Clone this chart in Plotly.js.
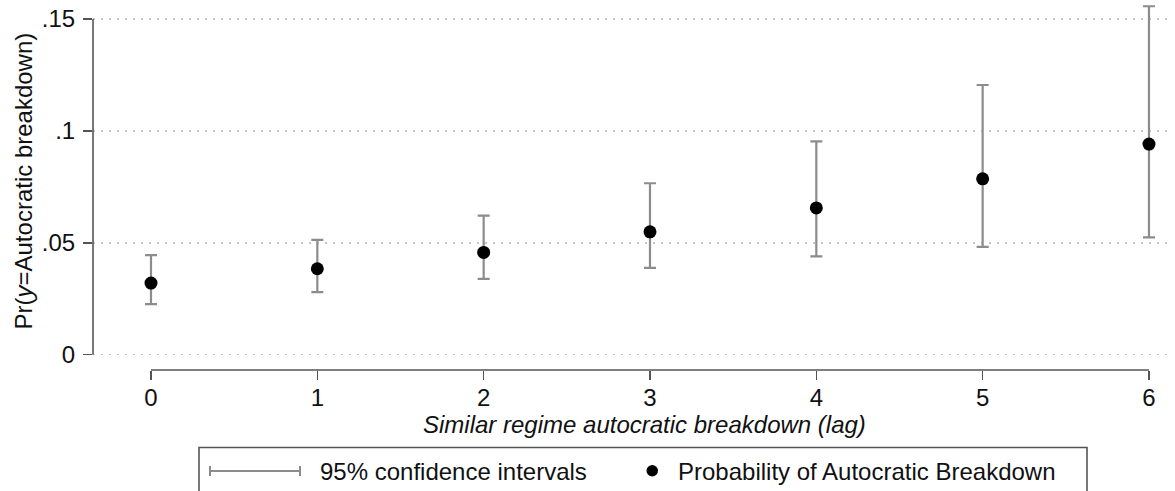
<!DOCTYPE html>
<html>
<head>
<meta charset="utf-8">
<script src="https://cdn.plot.ly/plotly-3.0.1.min.js"></script>
<style>
  html, body { margin: 0; padding: 0; background: #fff; }
  #chart { width: 1175px; height: 491px; }
</style>
</head>
<body>
<div id="chart"></div>
<script>
// ---- data ----
const lags = [0, 1, 2, 3, 4, 5, 6];
const prob = [0.0320, 0.0384, 0.0457, 0.0549, 0.0656, 0.0786, 0.0941];
const ciLow = [0.0226, 0.0280, 0.0339, 0.0388, 0.0439, 0.0482, 0.0524];
const ciHigh = [0.0445, 0.0513, 0.0621, 0.0766, 0.0953, 0.1205, 0.1557];
const yTickVals = [0, 0.05, 0.1, 0.15];
const yTickText = ['0', '.05', '.1', '.15'];
const xTickVals = [0, 1, 2, 3, 4, 5, 6];
const xTickText = ['0', '1', '2', '3', '4', '5', '6'];
const xTitle = 'Similar regime autocratic breakdown (lag)';
const yTitle = 'Pr(<i>y</i>=Autocratic breakdown)';
const legendCI = '95% confidence intervals';
const legendPt = 'Probability of Autocratic Breakdown';

const FONT = 'Liberation Sans, Arial, Helvetica, sans-serif';
const FS = 24;
const AX = '#555555';
const CI_COL = '#8c8c8c';

const errPlus = ciHigh.map((h, i) => h - prob[i]);
const errMinus = prob.map((p, i) => p - ciLow[i]);

// plot area: x 93..1170 px, y 4..370 px
const L = 93, R = 1170, T = 4, B = 370;
const W = R - L, H = B - T;
const px = x => (x - L) / W;
const py = y => (B - y) / H;

const trace = {
  x: lags, y: prob, type: 'scatter', mode: 'markers',
  marker: { color: '#000', size: 13 },
  error_y: {
    type: 'data', symmetric: false, array: errPlus, arrayminus: errMinus,
    color: CI_COL, thickness: 2.2, width: 6
  },
  cliponaxis: false, showlegend: false, hoverinfo: 'skip'
};

const layout = {
  width: 1175, height: 491,
  margin: { l: L, r: 1175 - R, t: T, b: 491 - B, pad: 0 },
  paper_bgcolor: '#fff', plot_bgcolor: '#fff',
  font: { family: FONT, size: FS, color: '#111' },
  showlegend: false,
  xaxis: {
    range: [-0.3487, 6.1264], showgrid: false, zeroline: false, showline: false,
    tickmode: 'array', tickvals: xTickVals, ticktext: xTickText,
    ticks: 'outside', ticklen: 9, tickwidth: 1.6, tickcolor: AX,
    ticklabelstandoff: -3,
    tickfont: { family: FONT, size: FS, color: '#111' }
  },
  yaxis: {
    range: [-0.00684, 0.1567], showgrid: true, zeroline: false, showline: false,
    gridcolor: '#c4c4c4', gridwidth: 1.5, griddash: '2px,6px',
    tickmode: 'array', tickvals: yTickVals, ticktext: yTickText,
    ticks: 'outside', ticklen: 9, tickwidth: 1.6, tickcolor: AX,
    ticklabelstandoff: 3,
    tickfont: { family: FONT, size: FS, color: '#111' }
  },
  shapes: [
    // y axis line (spans data range only)
    { type: 'line', xref: 'paper', yref: 'y', x0: 0, x1: 0, y0: 0, y1: 0.15,
      line: { color: AX, width: 1.6 } },
    // x axis line
    { type: 'line', xref: 'x', yref: 'paper', x0: 0, x1: 6, y0: 0, y1: 0,
      line: { color: AX, width: 1.6 } },
    // legend box
    { type: 'rect', xref: 'paper', yref: 'paper',
      x0: px(199), x1: px(1087), y0: py(447.5), y1: py(520),
      line: { color: AX, width: 1.6 }, fillcolor: 'rgba(0,0,0,0)' },
    // legend CI symbol
    { type: 'line', xref: 'paper', yref: 'paper', x0: px(210), x1: px(300), y0: py(471), y1: py(471),
      line: { color: CI_COL, width: 2 } },
    { type: 'line', xref: 'paper', yref: 'paper', x0: px(210), x1: px(210), y0: py(466), y1: py(476),
      line: { color: CI_COL, width: 2 } },
    { type: 'line', xref: 'paper', yref: 'paper', x0: px(300), x1: px(300), y0: py(466), y1: py(476),
      line: { color: CI_COL, width: 2 } },
    // legend dot symbol
    { type: 'circle', xref: 'paper', yref: 'paper', x0: px(646.5), x1: px(658), y0: py(465), y1: py(476.5),
      line: { color: '#000', width: 0 }, fillcolor: '#000' }
  ],
  annotations: [
    { text: xTitle, xref: 'paper', yref: 'paper', x: px(644), y: py(424),
      xanchor: 'center', yanchor: 'middle', showarrow: false,
      font: { family: FONT, size: FS, color: '#111', style: 'italic' } },
    { text: yTitle, xref: 'paper', yref: 'paper', x: px(22.5), y: py(181),
      xanchor: 'center', yanchor: 'middle', showarrow: false, textangle: -90,
      font: { family: FONT, size: FS, color: '#111' } },
    { text: legendCI, xref: 'paper', yref: 'paper', x: px(318), y: py(471.5),
      xanchor: 'left', yanchor: 'middle', showarrow: false,
      font: { family: FONT, size: FS, color: '#111' } },
    { text: legendPt, xref: 'paper', yref: 'paper', x: px(676), y: py(471.5),
      xanchor: 'left', yanchor: 'middle', showarrow: false,
      font: { family: FONT, size: FS, color: '#111' } }
  ]
};

Plotly.newPlot('chart', [trace], layout, { displayModeBar: false, staticPlot: true });
</script>
</body>
</html>
